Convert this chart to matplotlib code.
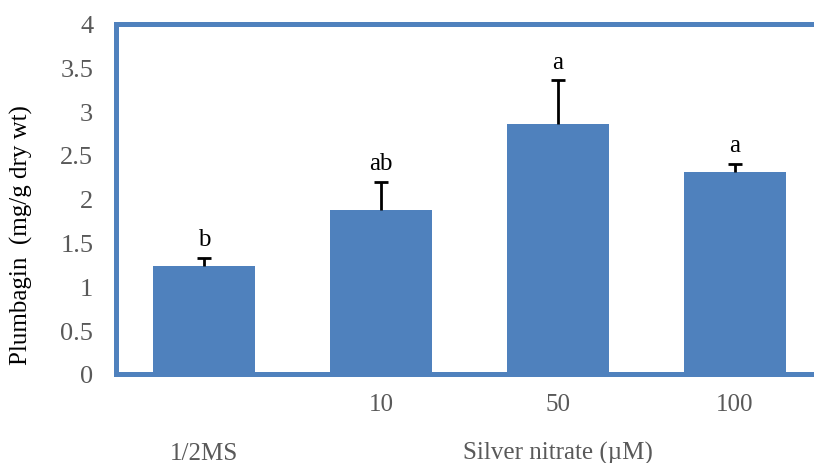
import matplotlib.pyplot as plt
import numpy as np

plt.rcParams['font.family'] = ['Liberation Serif', 'DejaVu Serif']

# --- Dati ---
treatments = ["1/2MS", "10", "50", "100"]
plumbagin = [1.23, 1.87, 2.85, 2.30]
sd = [0.09, 0.32, 0.50, 0.10]
letters = ["b", "ab", "a", "a"]
y_ticks = [0, 0.5, 1, 1.5, 2, 2.5, 3, 3.5, 4]
y_tick_labels = ["0", "0.5", "1", "1.5", "2", "2.5", "3", "3.5", "4"]

blue = "#4F81BD"
grey = "#595959"
fs = 18

fig = plt.figure(figsize=(8.14, 4.64), dpi=100)
# asse che sborda a destra come nell'originale
ax = fig.add_axes([115.5 / 814, 1 - 375 / 464, 708 / 814, 350.5 / 464])

x = np.arange(len(treatments))
ax.bar(x, plumbagin, width=0.58, color=blue, zorder=2)

# barre d'errore solo verso l'alto
tops = np.array(plumbagin) + np.array(sd)
ax.vlines(x, plumbagin, tops, color="black", lw=2, zorder=3)
ax.hlines(tops, x - 0.04, x + 0.04, color="black", lw=2, zorder=3)

# lettere di significativita'
for xi, t, lab in zip(x, tops, letters):
    ax.text(xi, t + 0.09, lab, ha="center", va="bottom", fontsize=fs)

ax.set_xlim(-0.5, 3.5)
ax.set_ylim(0, 4)
ax.set_yticks(y_ticks)
ax.set_yticklabels(y_tick_labels)
ax.tick_params(axis="y", length=0, pad=16, labelsize=19, labelcolor=grey)
ax.set_xticks([])

for s in ax.spines.values():
    s.set_color(blue)
    s.set_linewidth(3.6)

ax.set_ylabel("Plumbagin  (mg/g dry wt)", fontsize=fs)
ax.yaxis.set_label_coords(-0.117, 0.40)

# etichette asse x (stile a due livelli)
for xi, lab in zip(x[1:], treatments[1:]):
    ax.text(xi, -0.34, lab, ha="center", va="center", fontsize=fs,
            color=grey)
ax.text(x[0], -0.9, treatments[0], ha="center", va="center", fontsize=fs,
        color=grey)
ax.text(x[2], -0.9, "Silver nitrate (µM)", ha="center", va="center",
        fontsize=fs, color=grey)

plt.savefig("out.png", dpi=100)
